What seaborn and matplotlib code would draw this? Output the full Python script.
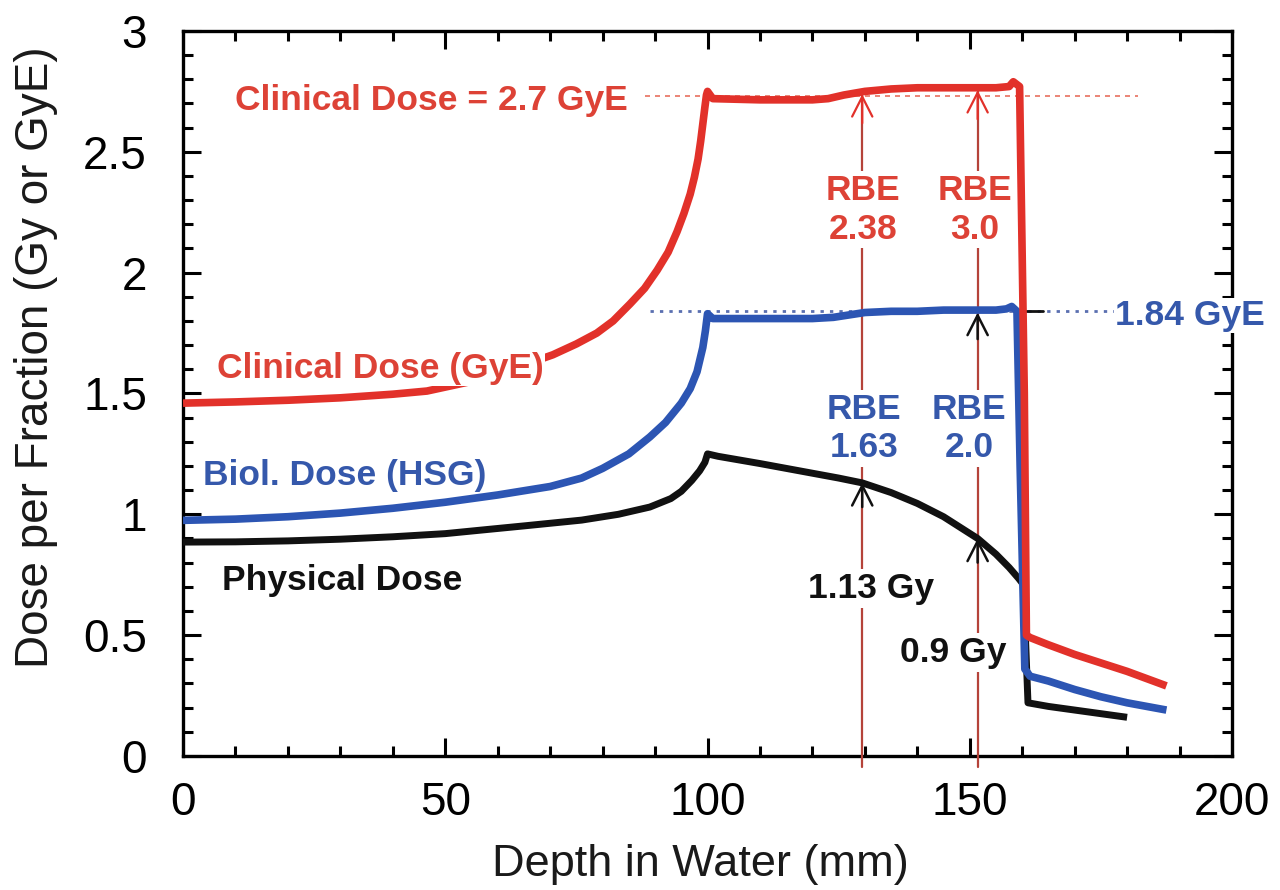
import numpy as np
import pandas as pd
import matplotlib
matplotlib.use("Agg")
import matplotlib.pyplot as plt
from matplotlib.ticker import MultipleLocator, FixedLocator, FixedFormatter
import seaborn as sns

# ---- depth-dose data (depth in water, mm; dose per fraction, Gy or GyE) ----
phys_depth = [0, 10, 20, 30, 40, 50, 57, 65, 76, 83, 89, 93, 95, 97, 98.5, 99.5, 100,
              102, 106, 110, 115, 120, 125, 129.5, 135, 140, 145, 151.5, 155, 157.5,
              159.3, 160.2, 160.6, 161.1, 165, 170, 175, 180]
phys_dose = [0.885, 0.886, 0.89, 0.897, 0.907, 0.92, 0.935, 0.952, 0.976, 1.0, 1.03,
             1.065, 1.095, 1.14, 1.18, 1.215, 1.25,
             1.24, 1.225, 1.21, 1.19, 1.17, 1.15, 1.13, 1.09, 1.045, 0.99, 0.9, 0.835,
             0.78, 0.735, 0.71, 0.5, 0.22, 0.205, 0.19, 0.175, 0.16]

biol_depth = [0, 10, 20, 30, 40, 50, 60, 70, 76, 80, 85, 89, 92, 95, 96.7, 98, 99.1,
              99.6, 100, 101, 110, 120, 124, 127, 130, 135, 140, 145, 150, 155, 157,
              158, 159, 159.6, 160.5, 161.5, 165, 170, 175, 180, 185, 187.5]
biol_dose = [0.975, 0.98, 0.99, 1.005, 1.025, 1.05, 1.08, 1.115, 1.15, 1.19, 1.25, 1.32,
             1.38, 1.46, 1.52, 1.59, 1.69, 1.76, 1.83, 1.81, 1.81, 1.81, 1.815, 1.825,
             1.835, 1.84, 1.84, 1.845, 1.845, 1.845, 1.85, 1.86, 1.84, 1.2, 0.36, 0.33,
             0.31, 0.275, 0.245, 0.22, 0.2, 0.19]

clin_depth = [0, 10, 20, 30, 40, 46.5, 55, 62, 70.5, 75, 78.9, 82, 85.2, 88, 90.4, 92.5,
              94.2, 95.5, 96.7, 97.5, 98.2, 98.7, 99.1, 99.5, 99.8, 100, 101, 110, 120,
              123, 126, 130, 135, 140, 145, 150, 155, 157.5, 158.3, 159.5, 160.4, 160.8,
              161.5, 165, 170, 175, 180, 185, 187.5]
clin_dose = [1.46, 1.465, 1.472, 1.482, 1.497, 1.51, 1.55, 1.595, 1.66, 1.705, 1.75,
             1.80, 1.87, 1.935, 2.01, 2.085, 2.17, 2.245, 2.325, 2.395, 2.47, 2.545,
             2.615, 2.685, 2.735, 2.75, 2.72, 2.715, 2.715, 2.72, 2.735, 2.75, 2.76,
             2.765, 2.765, 2.765, 2.765, 2.77, 2.79, 2.77, 1.5, 0.5, 0.49, 0.46, 0.42,
             0.385, 0.35, 0.31, 0.29]

# reference levels and the depths where RBE is evaluated
clin_ref = 2.73
clin_ref_span = [88, 182]
biol_ref = 1.84
biol_ref_span = [89, 177.5]
eval_depths = [129.5, 151.5]
phys_labels = ["1.13 Gy", "0.9 Gy"]
rbe_biol = ["1.63", "2.0"]
rbe_clin = ["2.38", "3.0"]

x_ticks = [0, 50, 100, 150, 200]
y_ticks = [0, 0.5, 1, 1.5, 2, 2.5, 3]
y_tick_labels = ["0", "0.5", "1", "1.5", "2", "2.5", "3"]

RED = "#e2312a"
RED_TXT = "#dd4236"
BLUE = "#2c55b3"
BLUE_TXT = "#3558ab"
BLACK = "#111111"
ARROW = "#b5433a"

sns.set_theme(style="ticks", rc={"xtick.color": "black", "ytick.color": "black",
                                 "axes.labelcolor": "#1a1a1a", "text.color": "black"})
plt.rcParams["font.family"] = ["Liberation Sans", "DejaVu Sans"]

fig = plt.figure(figsize=(12.8, 8.9), dpi=100)
ax = fig.add_axes([0.143, 0.1506, 0.8195, 0.8146])

phys = pd.DataFrame({"depth": phys_depth, "dose": phys_dose})
biol = pd.DataFrame({"depth": biol_depth, "dose": biol_dose})
clin = pd.DataFrame({"depth": clin_depth, "dose": clin_dose})

# reference levels
ax.plot(clin_ref_span, [clin_ref, clin_ref], color="#e8705f", lw=1.2,
        ls=(0, (3, 3)), zorder=2)
ax.plot(biol_ref_span, [biol_ref, biol_ref], color="#5a6fb0", lw=2.0,
        ls=(0, (1.2, 2.2)), zorder=2)
ax.plot([159, 164], [biol_ref, biol_ref], color=BLACK, lw=2.0, zorder=2)

head = "->, head_length=0.55, head_width=0.28"

# vertical markers at the evaluation depths
for d in eval_depths:
    top = float(np.interp(d, clin_depth, clin_dose))
    ax.plot([d, d], [-0.045, top], color=ARROW, lw=1.6, zorder=3, clip_on=False)
    ax.annotate("", xy=(d, top - 0.01), xytext=(d, top - 0.13),
                arrowprops=dict(arrowstyle=head, color=RED, lw=1.6,
                                mutation_scale=26, shrinkA=0, shrinkB=0), zorder=3)
    p = float(np.interp(d, phys_depth, phys_dose))
    ax.annotate("", xy=(d, p), xytext=(d, p - 0.1),
                arrowprops=dict(arrowstyle=head, color=BLACK, lw=1.8,
                                mutation_scale=26, shrinkA=0, shrinkB=0), zorder=3)

d2 = eval_depths[1]
b2 = float(np.interp(d2, biol_depth, biol_dose))
ax.annotate("", xy=(d2, b2 - 0.01), xytext=(d2, b2 - 0.12),
            arrowprops=dict(arrowstyle=head, color=BLACK, lw=1.8,
                            mutation_scale=26, shrinkA=0, shrinkB=0), zorder=3)

# dose curves
line_kw = dict(sort=False, estimator=None, ax=ax, solid_joinstyle="round",
               solid_capstyle="butt")
sns.lineplot(data=phys, x="depth", y="dose", color=BLACK, lw=5, zorder=4, **line_kw)
sns.lineplot(data=biol, x="depth", y="dose", color=BLUE, lw=5.5, zorder=5, **line_kw)
sns.lineplot(data=clin, x="depth", y="dose", color=RED, lw=5.5, zorder=6, **line_kw)

# labels
bold = dict(fontsize=25.5, fontweight="bold")
white = dict(facecolor="white", edgecolor="none", pad=2)
ax.text(9.9, 2.673, "Clinical Dose = 2.7 GyE", color=RED_TXT, ha="left",
        va="baseline", zorder=7, **bold)
ax.text(6.5, 1.564, "Clinical Dose (GyE)", color=RED_TXT, ha="left",
        va="baseline", zorder=7, bbox=dict(facecolor="white", edgecolor="none", pad=1),
        **bold)
ax.text(3.8, 1.121, "Biol. Dose (HSG)", color=BLUE_TXT, ha="left",
        va="baseline", zorder=7, **bold)
ax.text(7.4, 0.687, "Physical Dose", color=BLACK, ha="left",
        va="baseline", zorder=7, **bold)
ax.text(177.7, 1.783, f"{biol_ref:.2f} GyE", color=BLUE_TXT, ha="left",
        va="baseline", zorder=8, clip_on=False,
        bbox=dict(facecolor="white", edgecolor="none", pad=1), **bold)

clin_x = [129.6, 151.0]
biol_x = [129.9, 149.9]
phys_x = [131.2, 146.8]
for i in range(2):
    ax.text(clin_x[i], 2.26, f"RBE\n{rbe_clin[i]}", color=RED_TXT, ha="center",
            va="center", linespacing=1.22, zorder=7, bbox=white, **bold)
    ax.text(biol_x[i], 1.355, f"RBE\n{rbe_biol[i]}", color=BLUE_TXT, ha="center",
            va="center", linespacing=1.22, zorder=7, bbox=white, **bold)
ax.text(phys_x[0], 0.654, phys_labels[0], color=BLACK, ha="center",
        va="baseline", zorder=7, bbox=white, **bold)
ax.text(phys_x[1], 0.389, phys_labels[1], color=BLACK, ha="center",
        va="baseline", zorder=7, bbox=white, **bold)

# axes
ax.set_xlim(0, 200)
ax.set_ylim(0, 3)
ax.xaxis.set_major_locator(FixedLocator(x_ticks))
ax.xaxis.set_minor_locator(MultipleLocator(10))
ax.yaxis.set_major_locator(FixedLocator(y_ticks))
ax.yaxis.set_major_formatter(FixedFormatter(y_tick_labels))
ax.yaxis.set_minor_locator(MultipleLocator(0.1))
ax.tick_params(which="both", direction="in", top=True, right=True,
               color="black", width=2.2)
ax.tick_params(which="major", length=13)
ax.tick_params(which="minor", length=7)
ax.tick_params(axis="x", which="major", labelsize=33, pad=18)
ax.tick_params(axis="y", which="major", labelsize=33, pad=26)
for s in ax.spines.values():
    s.set_linewidth(2.4)
    s.set_color("black")

ax.set_xlabel("Depth in Water (mm)", fontsize=32.5)
ax.set_ylabel("Dose per Fraction (Gy or GyE)", fontsize=33)
ax.xaxis.set_label_coords(0.493, -0.121)
ax.yaxis.set_label_coords(-0.119, 0.55)

fig.savefig("out.png", dpi=100, facecolor="white")
